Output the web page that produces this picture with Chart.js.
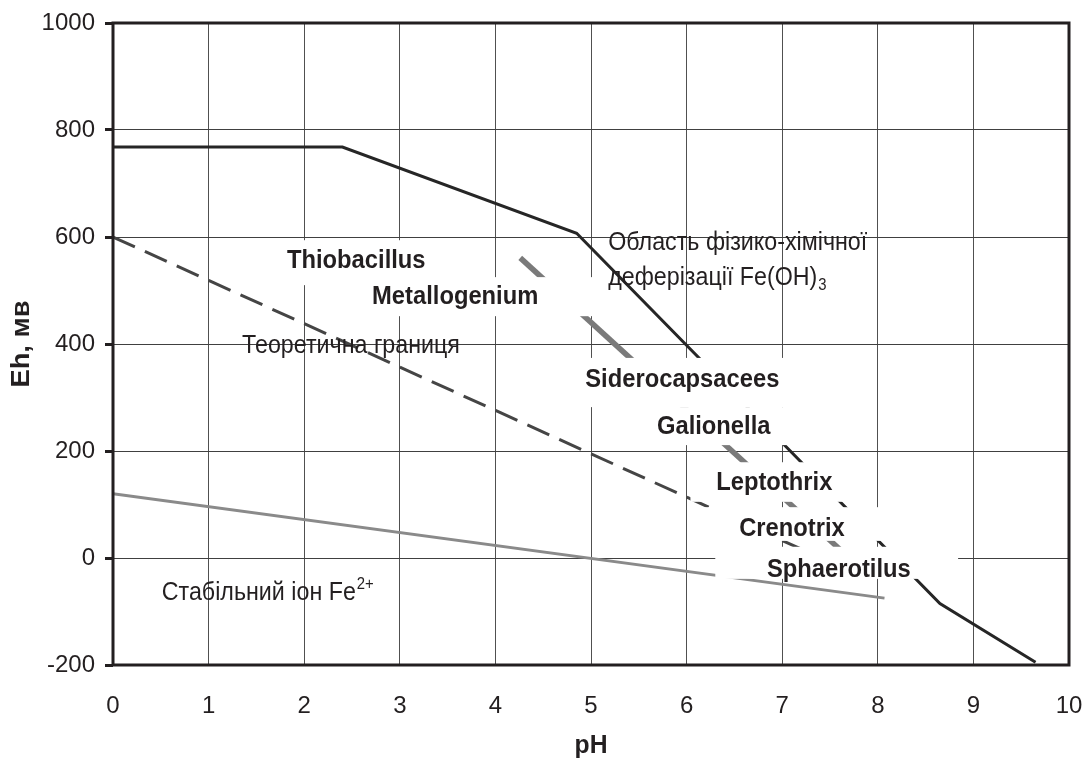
<!DOCTYPE html>
<html><head><meta charset="utf-8">
<script src="https://cdn.jsdelivr.net/npm/chart.js@4.4.1/dist/chart.umd.min.js"></script>
<style>html,body{margin:0;padding:0;background:#fff}canvas{display:block}</style>
</head><body>
<canvas id="c" width="1088" height="765"></canvas>
<script>
// ---- data ----
const xTickValues = [0,1,2,3,4,5,6,7,8,9,10];
const yTickValues = [-200,0,200,400,600,800,1000];

const blackPH = [0, 2.4, 4.85, 8.65, 9.65];
const blackEh = [768, 768, 607, -85, -195];

const grayThickPH = [4.26, 7.8];
const grayThickEh = [561, -16];

const dashedPH = [0, 7.7];
const dashedEh = [600, -24];

const graySolidPH = [0, 8.07];
const graySolidEh = [120, -75];

const boxedLabels = ['Thiobacillus','Metallogenium','Siderocapsacees','Galionella','Leptothrix','Crenotrix','Sphaerotilus'];
const boxedAnchors = [[1.82,542],[2.71,475],[4.94,320],[5.69,232],[6.31,127],[6.55,41],[6.84,-36]];
const boxedRects = [[1.69,594,3.94,510],[2.37,525,5.09,452],[4.68,374,7.19,282],[5.3,282,7.19,211],[6.04,179,7.81,105],[6.14,95,8.86,32],[6.3,21,8.84,-39]];

const plainLabels = [
  [{t:'Теоретична границя'}],
  [{t:'Область фізико-хімічної'}],
  [{t:'деферізації Fe(OH)'},{t:'3',sub:true}],
  [{t:'Стабільний іон Fe'},{t:'2+',sup:true}]
];
const plainAnchors = [[1.35,383],[5.18,576],[5.18,510],[0.51,-79]];

const xTitle = 'pH';
const yTitle = 'Eh, мв';

// ---- helpers ----
const zip = (a,b)=>a.map((v,i)=>({x:v,y:b[i]}));
const FONT = "'Liberation Sans', Arial, sans-serif";
const INK = '#231f20';

function drawText(ctx, s, x, y, size, bold, sx){
  ctx.save();
  ctx.translate(x,y);
  ctx.scale(sx,1);
  ctx.font=(bold?'bold ':'')+size+'px '+FONT;
  ctx.fillStyle=INK;
  ctx.textAlign='left';
  ctx.textBaseline='alphabetic';
  ctx.fillText(s,0,0);
  const w=ctx.measureText(s).width*sx;
  ctx.restore();
  return w;
}

const overlay = {
  id:'overlay',
  afterDatasetsDraw(chart){
    const ctx=chart.ctx, xs=chart.scales.x, ys=chart.scales.y, ca=chart.chartArea;
    ctx.save();
    ctx.fillStyle='#ffffff';
    boxedRects.forEach(r=>{
      const x1=xs.getPixelForValue(r[0]), y1=ys.getPixelForValue(r[1]);
      const x2=xs.getPixelForValue(r[2]), y2=ys.getPixelForValue(r[3]);
      ctx.fillRect(x1,y1,x2-x1,y2-y1);
    });
    ctx.restore();
    boxedLabels.forEach((s,i)=>{
      const a=boxedAnchors[i];
      drawText(ctx,s,xs.getPixelForValue(a[0]),ys.getPixelForValue(a[1]),25,true,0.95);
    });
    plainLabels.forEach((segs,i)=>{
      const a=plainAnchors[i];
      let x=xs.getPixelForValue(a[0]); const y=ys.getPixelForValue(a[1]);
      segs.forEach(sg=>{
        if(sg.sub) x+=drawText(ctx,sg.t,x+1,y+5,16,false,0.93);
        else if(sg.sup) x+=drawText(ctx,sg.t,x+1,y-11,16,false,0.93);
        else x+=drawText(ctx,sg.t,x,y,25,false,0.93);
      });
    });
    ctx.save();
    ctx.strokeStyle=INK; ctx.lineWidth=3;
    ctx.strokeRect(ca.left,ca.top,ca.right-ca.left,ca.bottom-ca.top);
    ctx.restore();
    ctx.save();
    ctx.font='bold 26px '+FONT; ctx.fillStyle=INK;
    ctx.textAlign='center'; ctx.textBaseline='middle';
    ctx.translate((ca.left+ca.right)/2,746); ctx.scale(0.95,1);
    ctx.fillText(xTitle,0,0);
    ctx.restore();
    ctx.save();
    ctx.font='bold 26px '+FONT; ctx.fillStyle=INK;
    ctx.textAlign='center'; ctx.textBaseline='middle';
    ctx.translate(22,(ca.top+ca.bottom)/2); ctx.rotate(-Math.PI/2); ctx.scale(1.05,1);
    ctx.fillText(yTitle,0,0);
    ctx.restore();
  }
};

Chart.defaults.font.family = FONT;

new Chart(document.getElementById('c'),{
  type:'line',
  data:{datasets:[
    {data:zip(graySolidPH,graySolidEh),borderColor:'#8a8a8a',borderWidth:3},
    {data:zip(dashedPH,dashedEh),borderColor:'#454545',borderWidth:3,borderDash:[24,11]},
    {data:zip(grayThickPH,grayThickEh),borderColor:'#7a7a7a',borderWidth:5.5},
    {data:zip(blackPH,blackEh),borderColor:'#262626',borderWidth:3}
  ]},
  options:{
    responsive:false, animation:false,
    layout:{padding:{top:23,right:19,left:0,bottom:0}},
    elements:{point:{radius:0},line:{tension:0,borderCapStyle:'butt'}},
    plugins:{legend:{display:false},tooltip:{enabled:false}},
    scales:{
      x:{type:'linear',min:0,max:10,
        afterBuildTicks(s){s.ticks=xTickValues.map(v=>({value:v}));},
        afterFit(s){s.height=100; s.paddingLeft=0; s.paddingRight=0;},
        ticks:{color:INK,font:{size:24},padding:27,maxRotation:0,callback:v=>String(v)},
        grid:{color:'#505050',lineWidth:1,drawTicks:false},
        border:{display:false}},
      y:{type:'linear',min:-200,max:1000,
        afterBuildTicks(s){s.ticks=yTickValues.map(v=>({value:v}));},
        afterFit(s){s.width=113; s.paddingTop=0; s.paddingBottom=0;},
        ticks:{color:INK,font:{size:24},padding:10,callback:v=>String(v)},
        grid:{color:'#404040',lineWidth:1,tickLength:8,tickColor:INK,tickWidth:3},
        border:{display:false}}
    }
  },
  plugins:[overlay]
});
</script>
</body></html>
